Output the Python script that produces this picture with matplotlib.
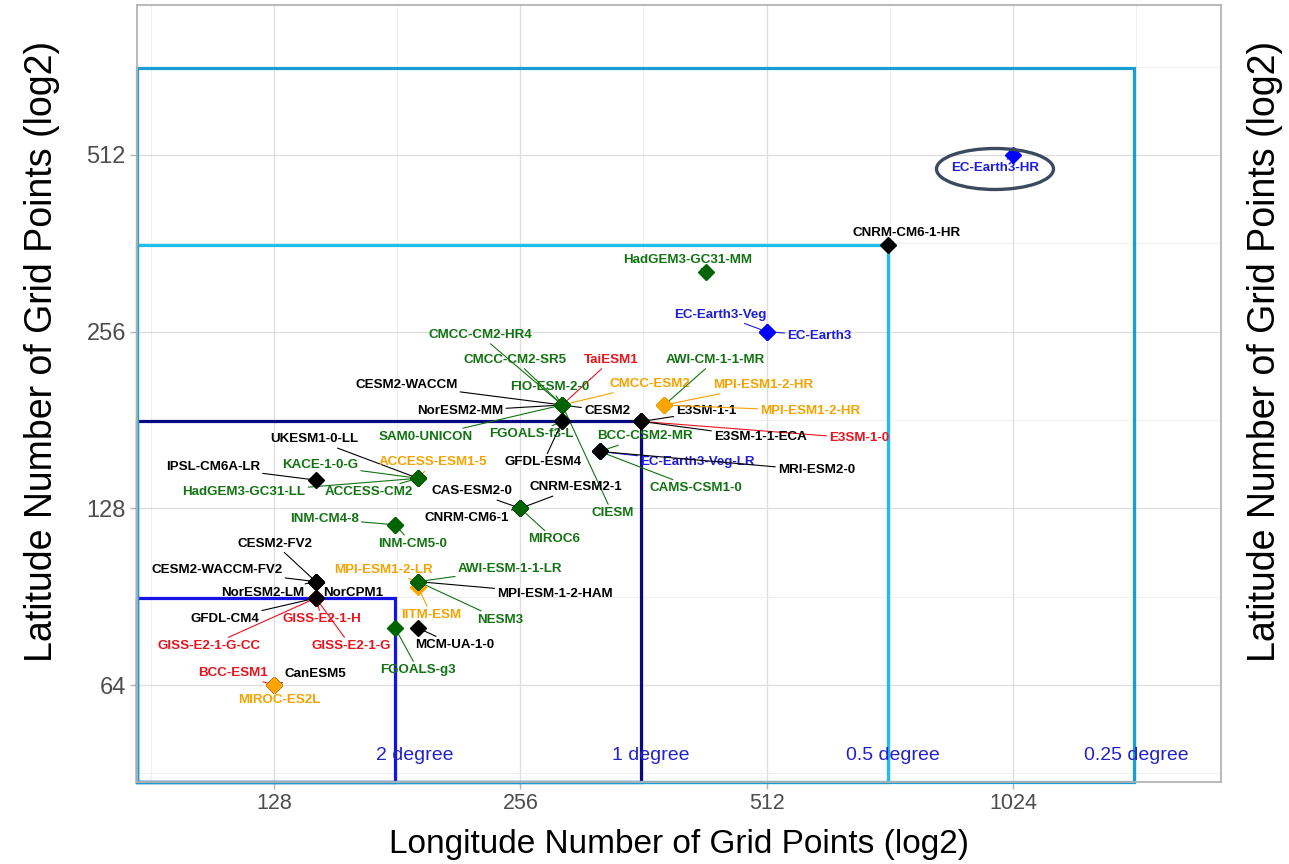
import matplotlib
matplotlib.use("Agg")
import matplotlib.pyplot as plt
import numpy as np
from matplotlib.patches import Rectangle, Ellipse
from matplotlib.transforms import Affine2D, ScaledTranslation

# CMIP6 models: grid size (lon x lat) and label colour group
models = ["TaiESM1", "CMCC-ESM2", "CESM2-WACCM", "NorESM2-MM", "CESM2",
          "CMCC-CM2-HR4", "CMCC-CM2-SR5", "FIO-ESM-2-0", "SAM0-UNICON", "CIESM",
          "FGOALS-f3-L", "GFDL-ESM4",
          "E3SM-1-0", "E3SM-1-1", "E3SM-1-1-ECA",
          "BCC-CSM2-MR", "CAMS-CSM1-0", "EC-Earth3-Veg-LR", "MRI-ESM2-0",
          "AWI-CM-1-1-MR", "MPI-ESM1-2-HR", "MPI-ESM1-2-HR",
          "HadGEM3-GC31-MM", "EC-Earth3-Veg", "EC-Earth3", "CNRM-CM6-1-HR", "EC-Earth3-HR",
          "CNRM-ESM2-1", "CNRM-CM6-1", "CAS-ESM2-0", "MIROC6",
          "IPSL-CM6A-LR", "UKESM1-0-LL", "ACCESS-ESM1-5", "KACE-1-0-G",
          "HadGEM3-GC31-LL", "ACCESS-CM2",
          "INM-CM4-8", "INM-CM5-0",
          "GISS-E2-1-G-CC", "GISS-E2-1-H", "GISS-E2-1-G", "GFDL-CM4",
          "CESM2-FV2", "CESM2-WACCM-FV2", "NorESM2-LM", "NorCPM1",
          "IITM-ESM", "MPI-ESM1-2-LR", "MPI-ESM-1-2-HAM", "AWI-ESM-1-1-LR", "NESM3",
          "MCM-UA-1-0", "FGOALS-g3",
          "BCC-ESM1", "CanESM5", "MIROC-ES2L"]
lon = [288, 288, 288, 288, 288,
       288, 288, 288, 288, 288,
       288, 288,
       360, 360, 360,
       320, 320, 320, 320,
       384, 384, 384,
       432, 512, 512, 720, 1024,
       256, 256, 256, 256,
       144, 192, 192, 192,
       192, 192,
       180, 180,
       144, 144, 144, 144,
       144, 144, 144, 144,
       192, 192, 192, 192, 192,
       192, 180,
       128, 128, 128]
lat = [192, 192, 192, 192, 192,
       192, 192, 192, 192, 192,
       180, 180,
       180, 180, 180,
       160, 160, 160, 160,
       192, 192, 192,
       324, 256, 256, 360, 512,
       128, 128, 128, 128,
       143, 144, 144, 144,
       144, 144,
       120, 120,
       90, 90, 90, 90,
       96, 96, 96, 96,
       94, 96, 96, 96, 96,
       80, 80,
       64, 64, 64]
group = ["r", "o", "k", "k", "k",
         "g", "g", "g", "g", "g",
         "g", "k",
         "r", "k", "k",
         "g", "g", "b", "k",
         "g", "o", "o",
         "g", "b", "b", "k", "b",
         "k", "k", "k", "g",
         "k", "k", "o", "g",
         "g", "g",
         "g", "g",
         "r", "r", "r", "k",
         "k", "k", "k", "k",
         "o", "o", "k", "g", "g",
         "k", "g",
         "r", "k", "o"]

# label placement (pixel offsets from the point, y up)
label_offsets = [(49, 45), (88, 21), (-156, 20), (-102, -6), (45, -6),
                 (-82, 70), (-47, 45), (-12, 18), (-137, -32), (50, -108),
                 (-31, -13), (-19, -41),
                 (218, -17), (65, 10), (119, -16),
                 (45, 15), (96, -37), (98, -11), (217, -19),
                 (51, 45), (99, 20), (146, -6),
                 (-19, 12), (-46, 17), (53, -4), (19, 12), (-18, -13),
                 (56, 21), (-54, -10), (-48, 17), (34, -31),
                 (-103, 13), (-104, 39), (15, 16), (-98, 13),
                 (-174, -14), (-49, -14),
                 (-71, 6), (17, -19),
                 (-107, -48), (6, -21), (35, -48), (-91, -21),
                 (-41, 38), (-99, 12), (-53, -11), (37, -11),
                 (13, -28), (-35, 12), (137, -12), (92, 13), (82, -38),
                 (37, -17), (23, -42),
                 (-41, 12), (41, 11), (5, -15)]

marker_col = {"k": "black", "g": "#006400", "o": "#FFA500", "r": "#FF0000", "b": "#0000FF"}
text_col = {"k": "black", "g": "#137313", "o": "#F5A300", "r": "#E8141E", "b": "#1E1ED8"}

# resolution boxes
box_lon = [180, 360, 720, 1440]
box_lat = [90, 180, 360, 720]
box_names = ["2 degree", "1 degree", "0.5 degree", "0.25 degree"]
box_cols = ["#1414E6", "#0A0A80", "#1EBEEE", "#1A9ED2"]

sans = ["Liberation Sans", "DejaVu Sans"]

fig = plt.figure(figsize=(12.89, 8.64), dpi=100)
ax = fig.add_axes([0.10628, 0.09491, 0.84096, 0.89931])
ax.set_xscale("log", base=2)
ax.set_yscale("log", base=2)
x0, x1 = 2 ** 6.4438, 2 ** 10.8444
y0, y1 = 2 ** 5.451, 2 ** 9.849
ax.set_xlim(x0, x1)
ax.set_ylim(y0, y1)

ax.set_xticks([128, 256, 512, 1024])
ax.set_xticklabels(["128", "256", "512", "1024"])
ax.set_yticks([64, 128, 256, 512])
ax.set_yticklabels(["64", "128", "256", "512"])
ax.set_xticks([2 ** (k + 0.5) for k in range(6, 11)], minor=True)
ax.set_yticks([2 ** (k + 0.5) for k in range(5, 10)], minor=True)
ax.xaxis.set_minor_formatter(plt.NullFormatter())
ax.yaxis.set_minor_formatter(plt.NullFormatter())
ax.tick_params(which="major", length=5, width=1, color="#b3b3b3", labelcolor="#4d4d4d", pad=3)
ax.tick_params(which="minor", length=0)
for t in ax.get_xticklabels():
    t.set_family(sans)
    t.set_fontsize(15.5)
for t in ax.get_yticklabels():
    t.set_family(sans)
    t.set_fontsize(17)
ax.grid(which="major", color="#dedede", lw=0.9)
ax.grid(which="minor", color="#ececec", lw=0.6)
ax.set_axisbelow(True)
for s in ax.spines.values():
    s.set_color("#b3b3b3")
    s.set_linewidth(1.3)

for bl, bt, name, c in zip(box_lon, box_lat, box_names, box_cols):
    ax.add_patch(Rectangle((x0, y0), bl - x0, bt - y0, fill=False, ec=c, lw=2.3, zorder=2, clip_on=False))
    ax.text(bl + 10, 0.034, name, transform=ax.get_xaxis_transform(), ha="center", va="center",
            color="#2222CC", fontsize=14, family=sans, zorder=2)

for m, x, y, g, (dx, dy) in zip(models, lon, lat, group, label_offsets):
    ax.annotate(m, xy=(x, y), xytext=(dx, dy), textcoords="offset pixels",
                ha="center", va="center", fontsize=9.6, fontweight="bold",
                family=sans, color=text_col[g], zorder=3,
                arrowprops=dict(arrowstyle="-", color=text_col[g], lw=0.8, shrinkA=0, shrinkB=0))
    ax.plot(x, y, marker="D", ms=8.5, color=marker_col[g], mec=marker_col[g], zorder=4, ls="none")

# highlight the highest-resolution model
hr = models.index("EC-Earth3-HR")
ell_tr = Affine2D() + ScaledTranslation(lon[hr], lat[hr], ax.transData)
ax.add_patch(Ellipse((-18, -14), 117, 41, transform=ell_tr, fill=False, ec="#3B4A5E", lw=2.4, zorder=5))

fig.text(0.5264, 0.022, "Longitude Number of Grid Points (log2)", ha="center", va="center",
         fontsize=24, family=sans)
fig.text(0.0326, 0.593, "Latitude Number of Grid Points (log2)", ha="center", va="center",
         rotation=90, fontsize=27, family=sans)
fig.text(0.9814, 0.593, "Latitude Number of Grid Points (log2)", ha="center", va="center",
         rotation=90, fontsize=27, family=sans)

fig.savefig("out.png", dpi=100)
